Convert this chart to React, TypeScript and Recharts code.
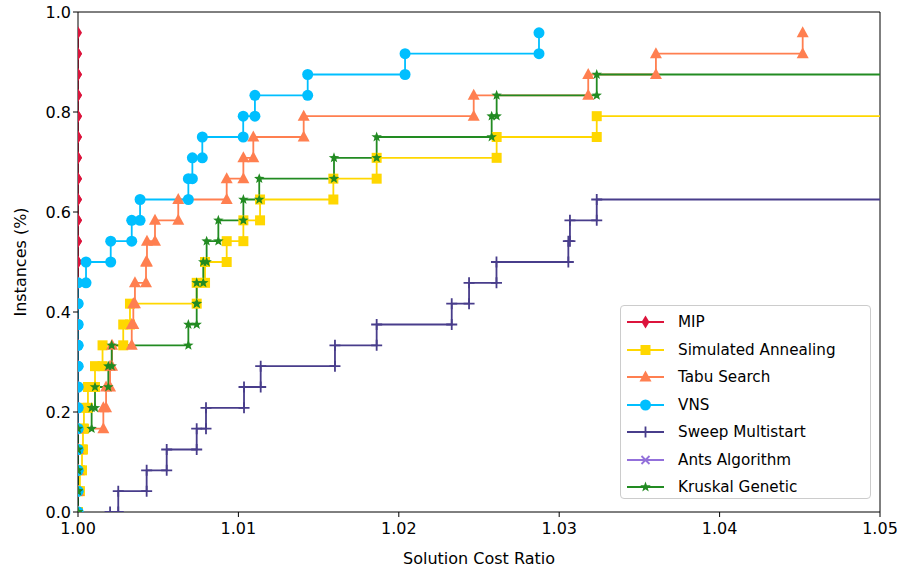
import { LineChart, Line, XAxis, YAxis, ReferenceLine } from "recharts";

document.body.style.margin = "0";

// sorted cost ratios per instance (first value = where the curve starts at 0)
const mipCosts = [
  1.0, 1.0, 1.0, 1.0, 1.0, 1.0, 1.0, 1.0, 1.0, 1.0, 1.0, 1.0,
  1.0, 1.0, 1.0, 1.0, 1.0, 1.0, 1.0, 1.0, 1.0, 1.0, 1.0, 1.0,
];
const saCosts = [
  1.0, 1.0, 1.00012, 1.00025, 1.00031, 1.00037, 1.00062, 1.00106, 1.00153, 1.00282,
  1.00324, 1.0074, 1.00792, 1.00927, 1.01031, 1.01135, 1.01592, 1.01862, 1.0261, 1.03234,
];
const tabuCosts = [
  1.0, 1.0, 1.0, 1.0, 1.0, 1.00158, 1.00175, 1.002, 1.00212, 1.00335, 1.00345, 1.00355,
  1.00424, 1.0043, 1.0048, 1.00625, 1.00927, 1.01031, 1.01093, 1.01407, 1.02467,
  1.03181, 1.03603, 1.04518,
];
const vnsCosts = [
  1.0, 1.0, 1.0, 1.0, 1.0, 1.0, 1.0, 1.0, 1.0, 1.0, 1.0, 1.0, 1.0005, 1.00204,
  1.00335, 1.00387, 1.00688, 1.00713, 1.00775, 1.0103, 1.01103, 1.01432, 1.02039, 1.02874,
];
const sweepCosts = [
  1.002, 1.00251, 1.00428, 1.00553, 1.0074, 1.00798, 1.01035, 1.01139, 1.01602,
  1.01862, 1.0233, 1.02438, 1.02609, 1.03057, 1.03067, 1.03234,
];
const antsCosts: number[] = [];
const kruskalCosts = [
  1.0, 1.0, 1.0, 1.0, 1.0, 1.00085, 1.00106, 1.00189, 1.0021, 1.00688, 1.0074, 1.0074,
  1.00781, 1.00802, 1.00875, 1.01031, 1.0113, 1.01596, 1.01862, 1.02579, 1.0261, 1.03234,
];

const INSTANCES = 24;
const xTicks = [1.0, 1.01, 1.02, 1.03, 1.04, 1.05];
const yTicks = [0, 0.2, 0.4, 0.6, 0.8, 1.0];

const series = [
  { name: "MIP", costs: mipCosts, color: "#dc143c", shape: "diamond", open: false },
  { name: "Simulated Annealing", costs: saCosts, color: "#ffd700", shape: "square", open: true },
  { name: "Tabu Search", costs: tabuCosts, color: "#ff7f50", shape: "triangle", open: false },
  { name: "VNS", costs: vnsCosts, color: "#00bfff", shape: "circle", open: false },
  { name: "Sweep Multistart", costs: sweepCosts, color: "#483d8b", shape: "plus", open: true },
  { name: "Ants Algorithm", costs: antsCosts, color: "#9370db", shape: "x", open: true },
  { name: "Kruskal Genetic", costs: kruskalCosts, color: "#228b22", shape: "star", open: true },
];

// step curve with a marker at both ends of each flat segment
function buildSteps(costs: number[], open: boolean) {
  const pts: { x: number; y: number; ext?: boolean }[] = [];
  if (!costs.length) return pts;
  pts.push({ x: costs[0], y: 0 });
  for (let i = 1; i < costs.length; i++) {
    pts.push({ x: costs[i], y: (i - 1) / INSTANCES });
    pts.push({ x: costs[i], y: i / INSTANCES });
  }
  if (open) pts.push({ x: 1.06, y: (costs.length - 1) / INSTANCES, ext: true });
  return pts;
}

function Marker({ shape, cx, cy, color }: { shape: string; cx: number; cy: number; color: string }) {
  switch (shape) {
    case "diamond":
      return <polygon points={`${cx},${cy - 6.5} ${cx + 4},${cy} ${cx},${cy + 6.5} ${cx - 4},${cy}`} fill={color} />;
    case "square":
      return <rect x={cx - 5} y={cy - 5} width={10} height={10} fill={color} />;
    case "triangle":
      return <polygon points={`${cx},${cy - 6.5} ${cx + 6},${cy + 4.5} ${cx - 6},${cy + 4.5}`} fill={color} />;
    case "circle":
      return <circle cx={cx} cy={cy} r={5.5} fill={color} />;
    case "plus":
      return <path d={`M${cx - 5.5},${cy}H${cx + 5.5}M${cx},${cy - 5.5}V${cy + 5.5}`} stroke={color} strokeWidth={1.8} />;
    case "x":
      return <path d={`M${cx - 4},${cy - 4}L${cx + 4},${cy + 4}M${cx - 4},${cy + 4}L${cx + 4},${cy - 4}`} stroke={color} strokeWidth={1.8} />;
    case "star": {
      const p: string[] = [];
      for (let k = 0; k < 10; k++) {
        const r = k % 2 === 0 ? 5.5 : 2.3;
        const a = -Math.PI / 2 + (k * Math.PI) / 5;
        p.push(`${cx + r * Math.cos(a)},${cy + r * Math.sin(a)}`);
      }
      return <polygon points={p.join(" ")} fill={color} />;
    }
    default:
      return null;
  }
}

function dotRenderer(shape: string, color: string) {
  return (props: any) => {
    const { cx, cy, index, payload } = props;
    if (payload?.ext || cx == null || cy == null) return <g key={index} />;
    return (
      <g key={index}>
        <Marker shape={shape} cx={cx} cy={cy} color={color} />
      </g>
    );
  };
}

const font = "'DejaVu Sans', sans-serif";

export default function App() {
  return (
    <div style={{ position: "relative", width: 900, height: 572, fontFamily: font, background: "#fff" }}>
      <LineChart width={900} height={572} margin={{ top: 12, right: 20, bottom: 0, left: 0 }}>
        <XAxis
          type="number"
          dataKey="x"
          domain={[1.0, 1.05]}
          allowDataOverflow
          ticks={xTicks}
          tickFormatter={(v: number) => v.toFixed(2)}
          height={60}
          tickSize={5}
          tickMargin={6}
          stroke="#000"
          tick={{ fill: "#000", fontSize: 16, fontFamily: font }}
          label={{ value: "Solution Cost Ratio", position: "insideBottom", offset: 8, fill: "#000", fontSize: 16, fontFamily: font }}
        />
        <YAxis
          type="number"
          domain={[0, 1]}
          allowDataOverflow
          ticks={yTicks}
          tickFormatter={(v: number) => v.toFixed(1)}
          width={78}
          tickSize={5}
          stroke="#000"
          tick={{ fill: "#000", fontSize: 16, fontFamily: font }}
          label={{
            value: "Instances (%)",
            angle: -90,
            position: "insideLeft",
            offset: 20,
            fill: "#000",
            fontSize: 16,
            fontFamily: font,
            style: { textAnchor: "middle" },
          }}
        />
        <ReferenceLine y={1} stroke="#000" strokeWidth={1} />
        <ReferenceLine x={1.05} stroke="#000" strokeWidth={1} />
        {series
          .filter((s) => s.costs.length > 0)
          .map((s) => (
            <Line
              key={s.name}
              data={buildSteps(s.costs, s.open)}
              dataKey="y"
              type="linear"
              stroke={s.color}
              strokeWidth={1.8}
              dot={dotRenderer(s.shape, s.color)}
              activeDot={false}
              isAnimationActive={false}
            />
          ))}
      </LineChart>
      <div
        style={{
          position: "absolute",
          left: 620,
          top: 305,
          width: 251,
          height: 194,
          border: "1px solid #ccc",
          borderRadius: 4,
          background: "rgba(255,255,255,0.85)",
          boxSizing: "border-box",
        }}
      >
        {series.map((s, i) => (
          <div
            key={s.name}
            style={{ position: "absolute", left: 6, top: 5 + i * 27.5, height: 22, display: "flex", alignItems: "center" }}
          >
            <svg width={38} height={22}>
              <line x1={0} y1={11} x2={37} y2={11} stroke={s.color} strokeWidth={1.8} />
              <Marker shape={s.shape} cx={18.5} cy={11} color={s.color} />
            </svg>
            <span style={{ marginLeft: 13, fontSize: 15.2, color: "#000", whiteSpace: "nowrap" }}>{s.name}</span>
          </div>
        ))}
      </div>
    </div>
  );
}
